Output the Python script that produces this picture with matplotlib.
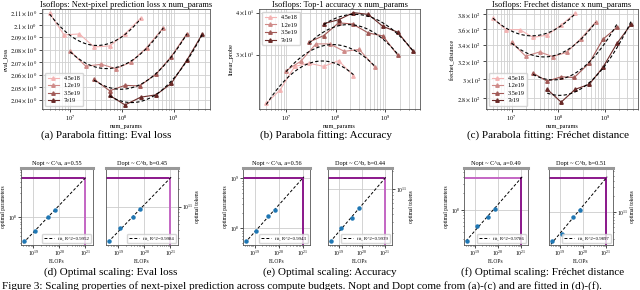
import numpy as np
import matplotlib
matplotlib.use("Agg")
import matplotlib.pyplot as plt
from matplotlib.ticker import FixedLocator, FuncFormatter, NullLocator

plt.rcParams["font.family"] = ["Liberation Serif", "DejaVu Serif"]
plt.rcParams["mathtext.fontset"] = "stix"

# isoflop budgets and model sizes (num params)
budgets = ["4.5e18", "1.2e19", "3.5e19", "7e19"]
params_45 = [4.0e6, 7.6e6, 1.5e7, 2.9e7, 5.8e7, 1.15e8, 2.3e8]
params_12 = [1.0e7, 2.0e7, 4.0e7, 7.6e7, 1.5e8, 3.0e8, 6.3e8]
params_35 = [2.9e7, 5.8e7, 1.15e8, 2.2e8, 4.6e8, 9.0e8, 1.8e9]
params_70 = [5.8e7, 1.15e8, 2.3e8, 4.6e8, 9.0e8, 1.8e9, 3.6e9]

# eval loss
loss_45 = [2.1095, 2.0919, 2.0927, 2.0822, 2.0830, 2.0927, 2.1055]
loss_12 = [2.0789, 2.0667, 2.0683, 2.0648, 2.0700, 2.0816, 2.0976]
loss_35 = [2.0563, 2.0472, 2.0515, 2.0510, 2.0605, 2.0744, 2.0927]
loss_70 = [2.0435, 2.0360, 2.0421, 2.0440, 2.0530, 2.0715, 2.0927]

# top-1 accuracy (linear probe)
acc_45 = [21.5, 23.6, 27.7, 28.3, 27.7, 28.8, 26.0]
acc_12 = [26.9, 28.7, 32.3, 32.3, 30.7, 31.1, 27.5]
acc_35 = [32.7, 34.2, 37.3, 37.0, 34.8, 34.1, 29.9]
acc_70 = [37.1, 38.1, 40.0, 39.5, 36.4, 35.0, 30.8]

# frechet distance
fd_45 = [374, 359, 359, 349, 352, 365, 381]
fd_12 = [343, 326, 331, 325.5, 330.5, 347, 369]
fd_35 = [306.4, 297.6, 302.4, 301.7, 318, 346.7, 362]
fd_70 = [289, 275.8, 289, 294.3, 313, 341.6, 366]

# optimal scaling
flops = [4.5e18, 1.2e19, 3.5e19, 7e19]
nopt_loss = [3.2e7, 5.1e7, 1.0e8, 1.4e8]
dopt_loss = [2.6e10, 4.3e10, 6.6e10, 9.1e10]
nopt_acc = [5.5e7, 8.9e7, 1.74e8, 2.34e8]
dopt_acc = [1.45e10, 2.34e10, 3.4e10, 4.9e10]
nopt_fd = [2.7e7, 5.1e7, 7.4e7, 1.05e8]
dopt_fd = [2.7e10, 3.7e10, 7.8e10, 1.1e11]
target_flops = 1e21

loss_ticks = [2.04, 2.05, 2.06, 2.07, 2.08, 2.09, 2.10, 2.11]
acc_ticks = [30, 40]
fd_ticks = [280, 300, 320, 340, 360, 380]

colors = ["#f3b3b3", "#cf8a88", "#a25a57", "#6a2a28"]
params = [params_45, params_12, params_35, params_70]

W, H = 640, 290
fig = plt.figure(figsize=(W / 100, H / 100), dpi=100)


def rect(l, r, t, b):
    return [l / W, 1 - b / H, (r - l) / W, (b - t) / H]


def sci_label(v, pos=None):
    e = int(np.floor(np.log10(v)))
    m = v / 10 ** e
    return r"$%s\times10^{%d}$" % (f"{m:g}", e)


def isoflop_panel(box, series, title, ylabel, ticks, ylim, legend_loc):
    ax = fig.add_axes(rect(*box))
    for x, y, c, lab in zip(params, series, colors, budgets):
        ax.plot(x, y, "-^", color=c, lw=0.8, ms=2.5, label=lab)
        # parabola fit in log-log space
        coef = np.polyfit(np.log10(x), np.log10(y), 2)
        xs = np.linspace(np.log10(x[0]), np.log10(x[-1]), 100)
        ax.plot(10 ** xs, 10 ** np.polyval(coef, xs), "--", color="black", lw=0.8, dashes=(3, 2))
    ax.set_xscale("log")
    ax.set_yscale("log")
    ax.set_ylim(*ylim)
    ax.yaxis.set_major_locator(FixedLocator(ticks))
    ax.yaxis.set_minor_locator(NullLocator())
    ax.yaxis.set_major_formatter(FuncFormatter(sci_label))
    ax.grid(True, which="both", color="#d0d0d0", lw=0.6)
    ax.set_axisbelow(True)
    ax.tick_params(labelsize=4.5, length=2, width=0.5, pad=1.5)
    ax.tick_params(which="minor", length=1, width=0.4)
    ax.set_title(title, fontsize=6, pad=1.5)
    ax.set_xlabel("num_params", fontsize=4.5, labelpad=0.5)
    ax.set_ylabel(ylabel, fontsize=4.5, labelpad=1)
    for s in ax.spines.values():
        s.set_linewidth(0.6)
        s.set_color("#555555")
    ax.legend(loc=legend_loc, fontsize=4.5, frameon=True, edgecolor="#cccccc",
              handlelength=1.8, borderpad=0.4, labelspacing=0.35)
    return ax


isoflop_panel((42, 210, 9, 109), [loss_45, loss_12, loss_35, loss_70],
              "Isoflops: Next-pixel prediction loss x num_params", "eval_loss",
              loss_ticks, (2.0328, 2.113), "lower left")
isoflop_panel((259, 420, 9, 109), [acc_45, acc_12, acc_35, acc_70],
              "Isoflops: Top-1 accuracy x num_params", "linear_probe",
              acc_ticks, (20.7, 41.0), "upper left")
isoflop_panel((486, 638, 9, 109), [fd_45, fd_12, fd_35, fd_70],
              "Isoflops: Frechet distance x num_params", "frechet_distance",
              fd_ticks, (269, 387), "lower left")


def scaling_panel(box, y, title, ylabel, r2, hcol, vcol, right=False):
    ax = fig.add_axes(rect(box[0], box[1], 168, 245))
    lx = np.log10(flops)
    ly = np.log10(y)
    coef = np.polyfit(lx, ly, 1)
    xs = np.linspace(18.6, 21.05, 50)
    ty = 10 ** np.polyval(coef, np.log10(target_flops))
    span = np.log10(ty) - ly.min()
    ylo = 10 ** (ly.min() - 0.06 * span)
    yhi = 10 ** (np.log10(ty) + 0.16 * span)
    xlo = 10 ** 18.52
    ax.plot(10 ** xs, 10 ** np.polyval(coef, xs), "--", color="black", lw=0.7,
            dashes=(3, 2), label=f"fit, R^2={r2}", zorder=3)
    ax.plot(flops, y, "o", color="#1f77b4", ms=2.2, zorder=4)
    ax.plot([xlo, target_flops], [ty, ty], color=hcol, lw=1.4, zorder=2)
    ax.plot([target_flops, target_flops], [ylo, ty], color=vcol, lw=1.4, zorder=2)
    ax.set_xscale("log")
    ax.set_yscale("log")
    ax.set_xlim(xlo, 10 ** 21.3)
    ax.set_ylim(ylo, yhi)
    ax.grid(True, which="major", color="#cccccc", lw=0.6)
    ax.set_axisbelow(True)
    ax.tick_params(labelsize=4, length=2, width=0.5, pad=1)
    ax.tick_params(which="minor", length=1, width=0.4)
    ax.set_title(title, fontsize=4.5, pad=2)
    ax.set_xlabel("FLOPs", fontsize=4, labelpad=0.5)
    ax.set_ylabel(ylabel, fontsize=4, labelpad=1)
    if right:
        ax.yaxis.tick_right()
        ax.yaxis.set_label_position("right")
    for s in ax.spines.values():
        s.set_linewidth(0.6)
        s.set_color("#555555")
    ax.spines["top"].set_linewidth(2.2)
    ax.spines["top"].set_color("#999999")
    ax.legend(loc="lower right", fontsize=3.5, frameon=True, edgecolor="#cccccc",
              handlelength=2, borderpad=0.4)
    return ax


dark = "#8b178b"
light = "#c466c4"
scaling_panel((21, 93), nopt_loss, "Nopt ~ C^a, a=0.55", "optimal parameters", "0.9952", dark, light)
scaling_panel((106, 178), dopt_loss, "Dopt ~ C^b, b=0.45", "optimal tokens", "0.9984", dark, light, right=True)
scaling_panel((243, 310), nopt_acc, "Nopt ~ C^a, a=0.56", "optimal parameters", "0.9943", dark, dark)
scaling_panel((328, 392), dopt_acc, "Dopt ~ C^b, b=0.44", "optimal tokens", "0.9939", dark, light, right=True)
scaling_panel((464, 528), nopt_fd, "Nopt ~ C^a, a=0.49", "optimal parameters", "0.9786", light, dark)
scaling_panel((549, 613), dopt_fd, "Dopt ~ C^b, b=0.51", "optimal tokens", "0.9897", dark, dark, right=True)

# sub-captions
caps_top = [(106, "(a) Parabola fitting: Eval loss"),
            (326, "(b) Parabola fitting: Accuracy"),
            (548, "(c) Parabola fitting: Fréchet distance")]
caps_bot = [(111, "(d) Optimal scaling: Eval loss"),
            (330, "(e) Optimal scaling: Accuracy"),
            (543, "(f) Optimal scaling: Fréchet distance")]
for x, t in caps_top:
    fig.text(x / W, 1 - 135 / H, t, ha="center", va="center", fontsize=8)
for x, t in caps_bot:
    fig.text(x / W, 1 - 272 / H, t, ha="center", va="center", fontsize=8)

fig.text(2 / W, 1 - 281 / H,
         "Figure 3: Scaling properties of next-pixel prediction across compute budgets. Nopt and Dopt come from (a)-(c) and are fitted in (d)-(f).",
         ha="left", va="top", fontsize=8)

fig.savefig("out.png", dpi=100)
